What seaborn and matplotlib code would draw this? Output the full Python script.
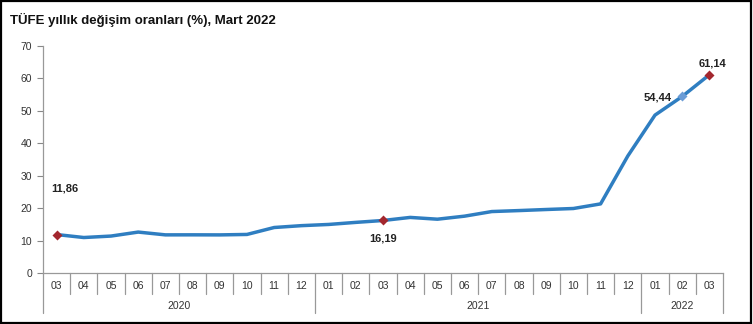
import matplotlib
matplotlib.use("Agg")
import matplotlib.pyplot as plt
import matplotlib.transforms as mtransforms
from matplotlib.patches import Rectangle
import seaborn as sns
import pandas as pd

months = ["03", "04", "05", "06", "07", "08", "09", "10", "11", "12",
          "01", "02", "03", "04", "05", "06", "07", "08", "09", "10", "11", "12",
          "01", "02", "03"]
years = ["2020"] * 10 + ["2021"] * 12 + ["2022"] * 3
values = [11.86, 10.94, 11.39, 12.62, 11.76, 11.77, 11.75, 11.89, 14.03, 14.60,
          14.97, 15.61, 16.19, 17.14, 16.59, 17.53, 18.95, 19.25, 19.58, 19.89, 21.31, 36.08,
          48.69, 54.44, 61.14]
labelled = [0, 12, 23, 24]
label_texts = ["11,86", "16,19", "54,44", "61,14"]
year_names = ["2020", "2021", "2022"]

sns.set_theme(style="white")
plt.rcParams["font.family"] = ["Liberation Sans", "DejaVu Sans"]

W, H = 753, 324
fig = plt.figure(figsize=(W / 100, H / 100), dpi=100)
ax = fig.add_axes([43 / W, 51 / H, 680 / W, 227 / H])

df = pd.DataFrame({"x": list(range(len(values))), "v": values})
sns.lineplot(data=df, x="x", y="v", ax=ax, color="#2F7EC1", linewidth=2.5)

red = "#A3272E"
lblue = "#6B9CD6"
for i in labelled:
    c = lblue if i == 23 else red
    ax.scatter([i], [values[i]], marker="D", s=26, color=c, zorder=5, linewidths=0)

offsets = {0: (6, 33, "center"), 12: (0, -13, "center"), 23: (-18, -1, "center"), 24: (2, 8, "center")}
for i, t in zip(labelled, label_texts):
    dx, dy, ha = offsets[i]
    ax.annotate(t, (i, values[i]), xytext=(dx, dy), textcoords="offset points",
                ha=ha, va="center", fontsize=8, fontweight="bold", color="#222222")

n = len(values)
ax.set_xlim(-0.5, n - 0.5)
ax.set_ylim(0, 70)
ax.set_yticks(range(0, 71, 10))
ax.set_yticklabels([str(v) for v in range(0, 71, 10)], fontsize=7.5, color="#333333")
ax.tick_params(axis="y", left=True, length=4, width=0.8, color="#888888", pad=4)
ax.set_xticks([])
ax.set_xlabel("")
ax.set_ylabel("")
for s in ["top", "right"]:
    ax.spines[s].set_visible(False)
for s in ["left", "bottom"]:
    ax.spines[s].set_color("#999999")
    ax.spines[s].set_linewidth(0.9)

trans = mtransforms.blended_transform_factory(ax.transData, ax.transAxes)
ah = 227.0
for k in range(n + 1):
    xb = k - 0.5
    is_year = k == 0 or k == n or years[k] != years[k - 1]
    depth = 40 if is_year else 21
    ax.plot([xb, xb], [0, -depth / ah], transform=trans, color="#999999",
            lw=0.9, clip_on=False)
for k, m in enumerate(months):
    ax.text(k, -13 / ah, m, transform=trans, ha="center", va="center",
            fontsize=7.5, color="#333333")
for y in year_names:
    idx = [k for k in range(n) if years[k] == y]
    ax.text((idx[0] + idx[-1]) / 2, -33 / ah, y, transform=trans, ha="center",
            va="center", fontsize=7.5, color="#333333")

fig.text(10 / W, 1 - 20 / H, "TÜFE yıllık değişim oranları (%), Mart 2022",
         ha="left", va="center", fontsize=9.5, fontweight="bold", color="#111111")

fig.patches.append(Rectangle((0.001, 0.002), 0.997, 0.995, transform=fig.transFigure,
                             fill=False, edgecolor="black", linewidth=1.6))

fig.savefig("out.png", dpi=100)
